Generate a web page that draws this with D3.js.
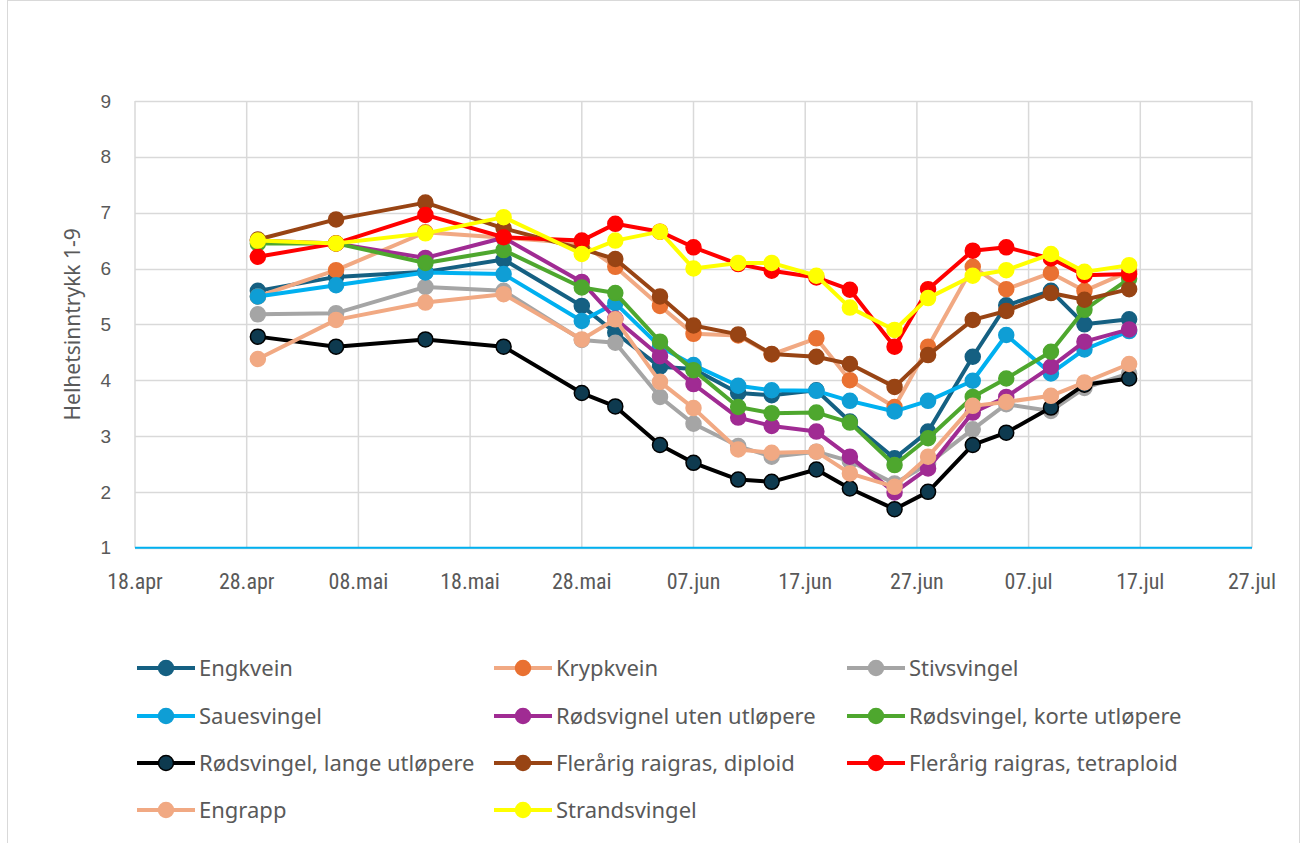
<!DOCTYPE html>
<html>
<head>
<meta charset="utf-8">
<script src="https://cdn.jsdelivr.net/npm/d3@7"></script>
<style>
  body { margin: 0; background: #fff; }
  #chart text { fill: #595959; }
</style>
</head>
<body>
<div id="chart"></div>
<script>
// observation dates (2024)
const dates = ["2024-04-29", "2024-05-06", "2024-05-14", "2024-05-21", "2024-05-28", "2024-05-31",
    "2024-06-04", "2024-06-07", "2024-06-11", "2024-06-14", "2024-06-18", "2024-06-21", "2024-06-25",
    "2024-06-28", "2024-07-02", "2024-07-05", "2024-07-09", "2024-07-12", "2024-07-16"];

const engkvein = [5.6, 5.85, 5.94, 6.16, 5.33, 4.85, 4.24, 4.2, 3.77, 3.73, 3.82, 3.26, 2.6, 3.08, 4.42, 5.34, 5.6, 5.0, 5.09];
const krypkvein = [5.5, 5.97, 6.65, 6.55, 6.45, 6.03, 5.33, 4.83, 4.8, 4.46, 4.75, 4.0, 3.52, 4.6, 6.03, 5.63, 5.92, 5.6, 5.95];
const stivsvingel = [5.18, 5.2, 5.67, 5.6, 4.72, 4.67, 3.7, 3.22, 2.82, 2.63, 2.72, 2.55, 2.15, 2.5, 3.12, 3.57, 3.45, 3.86, 4.12];
const sauesvingel = [5.5, 5.7, 5.93, 5.9, 5.06, 5.38, 4.6, 4.27, 3.9, 3.82, 3.81, 3.63, 3.44, 3.63, 3.99, 4.81, 4.12, 4.55, 4.88];
const rodsvUten = [6.5, 6.45, 6.19, 6.55, 5.76, 5.1, 4.43, 3.93, 3.33, 3.18, 3.08, 2.63, 1.99, 2.42, 3.42, 3.7, 4.24, 4.69, 4.91];
const rodsvKorte = [6.45, 6.45, 6.1, 6.33, 5.66, 5.56, 4.69, 4.18, 3.52, 3.41, 3.42, 3.24, 2.48, 2.96, 3.7, 4.03, 4.51, 5.26, 5.82];
const rodsvLange = [4.78, 4.6, 4.73, 4.6, 3.77, 3.53, 2.84, 2.52, 2.22, 2.18, 2.4, 2.06, 1.69, 2.0, 2.84, 3.06, 3.51, 3.92, 4.03];
const raiDiploid = [6.52, 6.88, 7.18, 6.72, 6.35, 6.17, 5.5, 4.98, 4.82, 4.47, 4.42, 4.29, 3.88, 4.45, 5.08, 5.24, 5.56, 5.44, 5.63];
const raiTetraploid = [6.21, 6.45, 6.96, 6.56, 6.5, 6.8, 6.66, 6.38, 6.08, 5.96, 5.84, 5.62, 4.6, 5.63, 6.32, 6.38, 6.18, 5.88, 5.9];
const engrapp = [4.38, 5.08, 5.39, 5.54, 4.73, 5.09, 3.97, 3.5, 2.76, 2.7, 2.72, 2.33, 2.09, 2.63, 3.54, 3.61, 3.72, 3.96, 4.29];
const strandsvingel = [6.5, 6.45, 6.63, 6.92, 6.26, 6.5, 6.66, 6.0, 6.1, 6.1, 5.87, 5.3, 4.9, 5.47, 5.87, 5.97, 6.26, 5.94, 6.06];

const xTicks = ["18.apr", "28.apr", "08.mai", "18.mai", "28.mai", "07.jun", "17.jun", "27.jun", "07.jul", "17.jul", "27.jul"];
const yTicks = [1, 2, 3, 4, 5, 6, 7, 8, 9];

const series = [
    { name: "Engkvein", values: engkvein, line: "#156082", fill: "#156082", stroke: "#156082" },
    { name: "Krypkvein", values: krypkvein, line: "#F1A983", fill: "#E97132", stroke: "#E97132" },
    { name: "Stivsvingel", values: stivsvingel, line: "#A5A5A5", fill: "#A5A5A5", stroke: "#A5A5A5" },
    { name: "Sauesvingel", values: sauesvingel, line: "#00B0F0", fill: "#0F9ED5", stroke: "#0F9ED5" },
    { name: "Rødsvignel uten utløpere", values: rodsvUten, line: "#A02B93", fill: "#A02B93", stroke: "#A02B93" },
    { name: "Rødsvingel, korte utløpere", values: rodsvKorte, line: "#4EA72E", fill: "#4EA72E", stroke: "#4EA72E" },
    { name: "Rødsvingel, lange utløpere", values: rodsvLange, line: "#000000", fill: "#0E3A4F", stroke: "#000000" },
    { name: "Flerårig raigras, diploid", values: raiDiploid, line: "#984414", fill: "#984414", stroke: "#984414" },
    { name: "Flerårig raigras, tetraploid", values: raiTetraploid, line: "#FF0000", fill: "#FF0000", stroke: "#FF0000" },
    { name: "Engrapp", values: engrapp, line: "#F1A983", fill: "#F1A983", stroke: "#F1A983" },
    { name: "Strandsvingel", values: strandsvingel, line: "#FFFF00", fill: "#FFFF00", stroke: "#FFFF00" }
];

const parse = d3.timeParse("%Y-%m-%d");
const parseTick = d3.timeParse("%d.%m.%Y");
const monthNo = { apr: "04", mai: "05", jun: "06", jul: "07" };
const tickDates = xTicks.map(t => {
    const [d, m] = t.split(".");
    return parseTick(`${d}.${monthNo[m]}.2024`);
});

const svg = d3.select("#chart").append("svg")
    .attr("width", 1306)
    .attr("height", 843);

svg.append("rect")
    .attr("x", 7.5).attr("y", 0.5)
    .attr("width", 1292).attr("height", 850)
    .attr("fill", "#fff")
    .attr("stroke", "#d9d9d9");

const margin = { top: 101, left: 135 },
    width = 1117,
    height = 446.7;

const x = d3.scaleTime().domain([tickDates[0], tickDates[tickDates.length - 1]]).range([0, width]);
const y = d3.scaleLinear().domain([1, 9]).range([height, 0]);

const g = svg.append("g").attr("transform", `translate(${margin.left},${margin.top})`);

// gridlines
g.append("g")
    .selectAll("line.h")
    .data(yTicks)
    .enter().append("line")
    .attr("x1", 0).attr("x2", width)
    .attr("y1", d => Math.round(y(d)) + 0.5).attr("y2", d => Math.round(y(d)) + 0.5)
    .attr("stroke", "#d9d9d9").attr("stroke-width", 1.5);

g.append("g")
    .selectAll("line.v")
    .data(tickDates)
    .enter().append("line")
    .attr("x1", d => x(d)).attr("x2", d => x(d))
    .attr("y1", 0).attr("y2", height)
    .attr("stroke", "#d9d9d9").attr("stroke-width", 1.5);

// x axis line (blue)
g.append("line")
    .attr("x1", 0).attr("x2", width)
    .attr("y1", height).attr("y2", height)
    .attr("stroke", "#00B0F0").attr("stroke-width", 2);

// tick labels
g.append("g")
    .selectAll("text")
    .data(xTicks)
    .enter().append("text")
    .attr("x", (d, i) => x(tickDates[i]))
    .attr("y", height + 41)
    .attr("text-anchor", "middle")
    .style("font", "22px 'Liberation Sans Narrow', 'Roboto Condensed', 'Liberation Sans', sans-serif")
    .text(d => d);

g.append("g")
    .selectAll("text")
    .data(yTicks)
    .enter().append("text")
    .attr("x", -24)
    .attr("y", d => y(d))
    .attr("dy", "0.35em")
    .attr("text-anchor", "end")
    .style("font", "19px 'Liberation Sans', sans-serif")
    .text(d => d);

svg.append("text")
    .attr("transform", `translate(80,${margin.top + height / 2}) rotate(-90)`)
    .attr("text-anchor", "middle")
    .style("font", "21px 'Noto Sans', sans-serif")
    .text("Helhetsinntrykk 1-9");

const line = d3.line()
    .x((d, i) => x(parse(dates[i])))
    .y(d => y(d));

series.forEach(s => {
    const sg = g.append("g");
    sg.append("path")
        .datum(s.values)
        .attr("fill", "none")
        .attr("stroke", s.line)
        .attr("stroke-width", 4)
        .attr("stroke-linejoin", "round")
        .attr("d", line);
    sg.selectAll("circle")
        .data(s.values)
        .enter().append("circle")
        .attr("cx", (d, i) => x(parse(dates[i])))
        .attr("cy", d => y(d))
        .attr("r", 7.5)
        .attr("fill", s.fill)
        .attr("stroke", s.stroke)
        .attr("stroke-width", 1.5);
});

// legend
const legX = [137, 494, 847], legY = [668, 716, 763, 810];
const leg = svg.append("g");
series.forEach((s, i) => {
    const lx = legX[i % 3], ly = legY[Math.floor(i / 3)];
    leg.append("line")
        .attr("x1", lx).attr("x2", lx + 58)
        .attr("y1", ly).attr("y2", ly)
        .attr("stroke", s.line).attr("stroke-width", 4);
    leg.append("circle")
        .attr("cx", lx + 29).attr("cy", ly).attr("r", 7.5)
        .attr("fill", s.fill).attr("stroke", s.stroke).attr("stroke-width", 1.5);
    leg.append("text")
        .attr("x", lx + 62).attr("y", ly)
        .attr("dy", "0.35em")
        .style("font", "22px 'Noto Sans', sans-serif")
        .text(s.name);
});
</script>
</body>
</html>
